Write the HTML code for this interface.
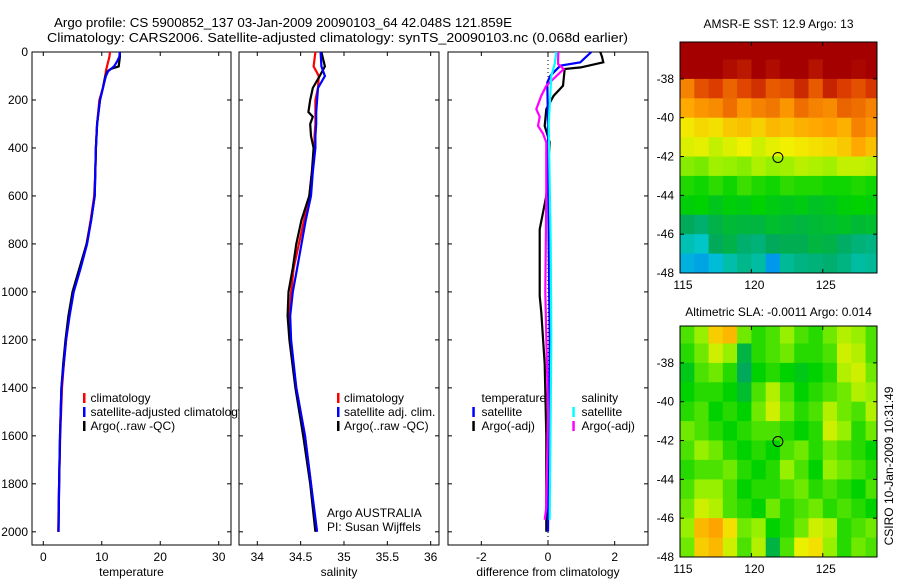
<!DOCTYPE html>
<html><head><meta charset="utf-8"><style>
html,body{margin:0;padding:0;background:#fff;}
svg{display:block;font-family:"Liberation Sans",sans-serif;}
</style></head><body>
<svg id="fig" width="900" height="580" viewBox="0 0 900 580" xmlns="http://www.w3.org/2000/svg">
<text x="54" y="27" font-size="13" textLength="458" lengthAdjust="spacingAndGlyphs">Argo profile: CS 5900852_137 03-Jan-2009 20090103_64 42.048S 121.859E</text>
<text x="47" y="42" font-size="13" textLength="581" lengthAdjust="spacingAndGlyphs">Climatology: CARS2006. Satellite-adjusted climatology: synTS_20090103.nc (0.068d earlier)</text>
<g id="layer"></g>
</svg>
<script>
// ---- profile data ----
var tDepth=[0,20,40,60,70,80,100,150,200,300,400,500,600,700,800,900,1000,1100,1200,1300,1400,1600,1800,2000];
var tArgo=[13.1,13.1,13.0,12.9,11.6,11.0,10.6,10.2,9.7,9.2,9.0,8.9,8.8,8.2,7.4,6.2,5.0,4.3,3.8,3.4,3.1,2.85,2.7,2.6];
var tClim=[11.4,11.3,11.1,10.9,10.8,10.7,10.6,10.2,9.6,9.2,9.0,8.9,8.7,8.1,7.4,6.3,5.1,4.4,3.9,3.5,3.2,2.9,2.7,2.55];
var tSat=[13.1,13.0,12.6,12.1,11.6,11.1,10.7,10.2,9.7,9.2,9.0,8.9,8.8,8.2,7.5,6.4,5.2,4.5,3.9,3.5,3.1,2.85,2.7,2.6];
var sDepth=[0,60,100,150,200,250,270,300,350,400,500,600,700,800,900,1000,1100,1200,1400,1600,1800,2000];
var sArgo=[34.74,34.78,34.72,34.64,34.61,34.59,34.64,34.61,34.62,34.65,34.63,34.60,34.51,34.45,34.41,34.36,34.35,34.37,34.44,34.53,34.61,34.67];
var sClim=[34.67,34.65,34.71,34.70,34.67,34.67,34.67,34.67,34.66,34.66,34.63,34.60,34.54,34.48,34.42,34.39,34.37,34.38,34.45,34.55,34.62,34.68];
var sSat=[34.73,34.74,34.78,34.70,34.69,34.68,34.68,34.68,34.67,34.67,34.64,34.62,34.56,34.51,34.46,34.41,34.38,34.39,34.45,34.55,34.62,34.69];
var dTempSatDepth=[0,43,57,99,127,300,800,1200,2000];
var dTempSat=[1.3,0.97,0.37,0.07,-0.02,0.0,0.02,0.05,0.0];
var dTempArgoDepth=[0,20,43,64,71,141,182,238,308,377,600,739,877,1017,1086,1300,1600,2000];
var dTempArgo=[1.57,1.62,1.66,0.98,0.5,0.45,0.17,-0.05,-0.1,0.05,-0.05,-0.25,-0.25,-0.25,-0.2,-0.1,-0.05,-0.05];
var dSalSatDepth=[0,50,99,300,800,1200,1950];
var dSalSat=[0.25,0.2,0.1,0.02,0.08,0.1,0.05];
var dSalArgoDepth=[0,50,71,127,141,182,238,270,308,340,377,600,1000,1500,1900,1950];
var dSalArgo=[0.31,0.3,0.47,0.05,-0.05,-0.2,-0.35,-0.25,-0.3,-0.15,-0.05,-0.05,-0.08,0.0,-0.05,-0.1];
var depthTicks=[0,200,400,600,800,1000,1200,1400,1600,1800,2000];
var tTicks=[0,10,20,30];
var sTicks=[34,34.5,35,35.5,36];
var sTickLabels=["34","34.5","35","35.5","36"];
var dTicks=[-2,0,2];
// ---- map data (rows: -36.5 .. -47.5, cols: 115.5 .. 128.5) ----
var mapLats=[-36.5,-37.5,-38.5,-39.5,-40.5,-41.5,-42.5,-43.5,-44.5,-45.5,-46.5,-47.5];
var mapLons=[115.5,116.5,117.5,118.5,119.5,120.5,121.5,122.5,123.5,124.5,125.5,126.5,127.5,128.5];
var sstGrid=[
[17,17,17,17,17,17,17,17,17,17,17,17,17,17],
[17,17,17,16.8,16.6,17,16.8,17,17,16.7,17,17,16.9,17],
[15.3,15.8,16,15.6,15.9,16.2,15.7,15.8,16.3,15.7,16.4,16,15.8,16.1],
[14.9,15.1,15.2,15.5,15.1,15.3,15.4,15.1,15.5,15.3,15.2,15.6,15.5,15.3],
[14.1,14.3,14.2,14.5,14.6,14.4,14.7,14.6,14.8,14.9,15.0,14.8,15.3,15.1],
[13.8,13.9,13.6,13.8,14.0,13.7,13.9,14.0,14.1,14.2,14.3,14.5,14.9,14.6],
[13.1,13.0,13.3,13.2,13.1,13.4,13.2,13.3,13.5,13.4,13.3,13.6,13.6,13.5],
[12.4,12.3,12.5,12.3,12.6,12.4,12.3,12.5,12.4,12.4,12.3,12.3,12.4,12.3],
[12.1,12.2,11.9,12.1,12.0,12.2,12.0,11.9,12.0,11.8,11.9,12.1,12.2,12.1],
[11.2,11.0,11.4,11.6,11.5,11.5,11.7,11.6,11.5,11.6,11.7,11.8,11.6,11.7],
[10.3,10.1,11.2,11.4,11.0,10.9,11.2,11.3,11.3,11.5,11.4,11.1,10.9,10.8],
[9.6,9.4,9.8,10.4,10.7,10.5,9.2,10.6,10.8,10.9,11.0,10.8,10.5,10.6]];
var slaGrid=[
[2,4,9,10,3,1,2,4,2,1,3,5,4,2],
[1,3,6,4,-3,1,2,3,1,1,2,6,5,2],
[-1,2,3,1,-4,0,1,0,-1,0,1,5,6,3],
[0,1,1,0,-2,2,5,2,0,1,2,3,5,4],
[1,2,0,1,0,3,6,3,1,2,5,3,2,5],
[3,2,1,0,1,2,2,1,0,1,6,4,1,3],
[2,4,3,1,0,1,0,2,3,1,3,2,1,0],
[1,2,2,3,1,0,1,4,2,0,4,3,2,1],
[2,4,4,2,0,1,1,2,3,1,2,1,0,2],
[3,6,5,2,1,0,3,1,2,3,1,2,1,0],
[4,10,11,8,3,4,0,1,3,6,5,1,2,3],
[3,9,10,6,2,5,-3,2,7,8,4,1,3,2]];
var lonTicks=[115,120,125];
var latTicks=[-38,-40,-42,-44,-46,-48];
var argoLon=121.859, argoLat=-42.048;

var NS="http://www.w3.org/2000/svg";
var L=document.getElementById('layer');
function mk(tag,attrs,parent){var e=document.createElementNS(NS,tag);for(var k in attrs)e.setAttribute(k,attrs[k]);(parent||L).appendChild(e);return e;}
function txt(x,y,s,size,anchor,name){var t=mk('text',{x:x,y:y,'font-size':size,'text-anchor':anchor||'start',fill:'#000'});t.textContent=s;


return t;}

var Y0=52,Y1=545,D0=0,D1=2055;
function yD(d){return Y0+(d-D0)/(D1-D0)*(Y1-Y0);}

function panel(name,x0,x1,v0,v1,ticks,labels,xlabel,showY){
  var sx=function(v){return x0+(v-v0)/(v1-v0)*(x1-x0);};
  var r=mk('rect',{x:x0,y:Y0,width:x1-x0,height:Y1-Y0,fill:'#fff',stroke:'#000','stroke-width':1});
  
  
  ticks.forEach(function(v,i){var x=sx(v);
    mk('line',{x1:x,x2:x,y1:Y1,y2:Y1-4,stroke:'#000'});mk('line',{x1:x,x2:x,y1:Y0,y2:Y0+4,stroke:'#000'});
    txt(x,561,labels[i],12,'middle',name+'-x-tick-label');});
  depthTicks.forEach(function(d){var y=yD(d);
    mk('line',{x1:x0,x2:x0+4,y1:y,y2:y,stroke:'#000'});mk('line',{x1:x1,x2:x1-4,y1:y,y2:y,stroke:'#000'});
    if(showY)txt(x0-4,y+4,String(d),12,'end','y-tick-label');});
  txt((x0+x1)/2,576,xlabel,12,'middle',name+'-x-axis-title');
  return sx;
}
function line(sx,depths,vals,color,name,w){
  var p=depths.map(function(d,i){return sx(vals[i]).toFixed(1)+','+yD(d).toFixed(1);}).join(' ');
  var e=mk('polyline',{points:p,fill:'none',stroke:color,'stroke-width':w||2.2,'stroke-linejoin':'miter'});
  
  
}
function legend(mx,tx,y,color,label,name){
  mk('rect',{x:mx-1,y:y-9,width:2.5,height:10,fill:color});
  txt(tx,y,label,12,'start',name);
}

// Panel 1: temperature
var sx1=panel('temperature-panel',32,231,-1.93,32.1,tTicks,tTicks.map(String),'temperature',true);
line(sx1,tDepth,tClim,'#ff0000','temp-climatology-line');
line(sx1,tDepth,tArgo,'#000000','temp-argo-line');
line(sx1,tDepth,tSat,'#0000ff','temp-satellite-line');
legend(84,90.5,402,'#ff0000','climatology','legend-climatology');
legend(84,90.5,416,'#0000ff','satellite-adjusted climatology','legend-satellite');
legend(84,90.5,430,'#000000','Argo(..raw -QC)','legend-argo');

// Panel 2: salinity
var sx2=panel('salinity-panel',239,439,33.789,36.096,sTicks,sTickLabels,'salinity',false);
line(sx2,sDepth,sClim,'#ff0000','sal-climatology-line');
line(sx2,sDepth,sArgo,'#000000','sal-argo-line');
line(sx2,sDepth,sSat,'#0000ff','sal-satellite-line');
legend(338,344,402,'#ff0000','climatology','legend2-climatology');
legend(338,344,416,'#0000ff','satellite adj. clim.','legend2-satellite');
legend(338,344,430,'#000000','Argo(..raw -QC)','legend2-argo');
txt(327,517,'Argo AUSTRALIA',12,'start','credit-argo-australia');
txt(327,531,'PI: Susan Wijffels',12,'start','credit-pi');

// Panel 3: differences
var sx3=panel('difference-panel',448,648,-3,3,dTicks,dTicks.map(String),'difference from climatology',false);
var zl=mk('line',{x1:sx3(0),x2:sx3(0),y1:Y0,y2:Y1,stroke:'#000','stroke-dasharray':'1,3'});


line(sx3,dTempArgoDepth,dTempArgo,'#000000','diff-temp-argo-line');
line(sx3,dTempSatDepth,dTempSat,'#0000ff','diff-temp-satellite-line');
line(sx3,dSalArgoDepth,dSalArgo,'#ff00ff','diff-sal-argo-line');
line(sx3,dSalSatDepth,dSalSat,'#00ffff','diff-sal-satellite-line');
txt(481.5,402,'temperature',12,'start','legend3-temperature-header');
legend(473.3,481.5,416,'#0000ff','satellite','legend3-temp-satellite');
legend(473.3,481.5,430,'#000000','Argo(-adj)','legend3-temp-argo');
txt(581.5,402,'salinity',12,'start','legend3-salinity-header');
legend(573.3,581.5,416,'#00ffff','satellite','legend3-sal-satellite');
legend(573.3,581.5,430,'#ff00ff','Argo(-adj)','legend3-sal-argo');

// Maps
var stops=[[0,[0,24,150]],[0.15,[0,110,255]],[0.3,[0,200,210]],[0.42,[0,170,90]],[0.52,[0,210,0]],[0.62,[150,240,0]],[0.7,[240,240,0]],[0.8,[255,160,0]],[0.9,[220,60,0]],[1,[165,0,0]]];
function cmap(t){t=Math.max(0,Math.min(1,t));for(var i=1;i<stops.length;i++){if(t<=stops[i][0]){var a=stops[i-1],b=stops[i],f=(t-a[0])/(b[0]-a[0]);
  return 'rgb('+[0,1,2].map(function(k){return Math.round(a[1][k]+f*(b[1][k]-a[1][k]));}).join(',')+')';}}return 'rgb(165,0,0)';}

function map(name,x0,x1,yTop,yBot,grid,norm,title,titleY){
  var lon0=115,lon1=128.8,lat0=-36.1,lat1=-48;
  var mx=function(lo){return x0+(lo-lon0)/(lon1-lon0)*(x1-x0);};
  var my=function(la){return yTop+(la-lat0)/(lat1-lat0)*(yBot-yTop);};
  var g=mk('g',{});
  
  
  var cs=mk('clipPath',{id:name+'-clip'});mk('rect',{x:x0,y:yTop,width:x1-x0,height:yBot-yTop},cs);
  g.setAttribute('clip-path','url(#'+name+'-clip)');
  grid.forEach(function(row,i){row.forEach(function(v,j){
    var la=mapLats[i],lo=mapLons[j];
    var xa=mx(lo-0.5),xb=mx(lo+0.5),ya=my(la+0.5),yb=my(la-0.5);
    if(i===0)ya=yTop-2;
    var c=mk('rect',{x:xa.toFixed(1),y:ya.toFixed(1),width:(xb-xa+0.6).toFixed(1),height:(yb-ya+0.6).toFixed(1),fill:cmap(norm(v))},g);
    
    
  });});
  var fr=mk('rect',{x:x0,y:yTop,width:x1-x0,height:yBot-yTop,fill:'none',stroke:'#000'});
  
  
  lonTicks.forEach(function(lo){var x=mx(lo);mk('line',{x1:x,x2:x,y1:yBot,y2:yBot-4,stroke:'#000'});mk('line',{x1:x,x2:x,y1:yTop,y2:yTop+4,stroke:'#000'});
    txt(x+3,yBot+16,String(lo),12,'middle',name+'-lon-tick-label');});
  latTicks.forEach(function(la){var y=my(la);mk('line',{x1:x0,x2:x0+4,y1:y,y2:y,stroke:'#000'});mk('line',{x1:x1,x2:x1-4,y1:y,y2:y,stroke:'#000'});
    txt(x0-6,y+4,String(la),12,'end',name+'-lat-tick-label');});
  var c=mk('circle',{cx:mx(argoLon),cy:my(argoLat),r:5,fill:'none',stroke:'#000','stroke-width':1});
  
  
  txt((x0+x1)/2,titleY,title,12,'middle',name+'-title');
}
map('sst-map',680,877,42,273,sstGrid,function(v){return (v-7)/10;},'AMSR-E SST: 12.9 Argo: 13',28);
map('sla-map',680,877,326,557,slaGrid,function(v){return 0.52+v*0.025;},'Altimetric SLA: -0.0011 Argo: 0.014',316);

var st=txt(0,0,'CSIRO 10-Jan-2009 10:31:49',12,'middle','timestamp-label');
st.setAttribute('transform','translate(893,466) rotate(-90)');
</script>
</body></html>
